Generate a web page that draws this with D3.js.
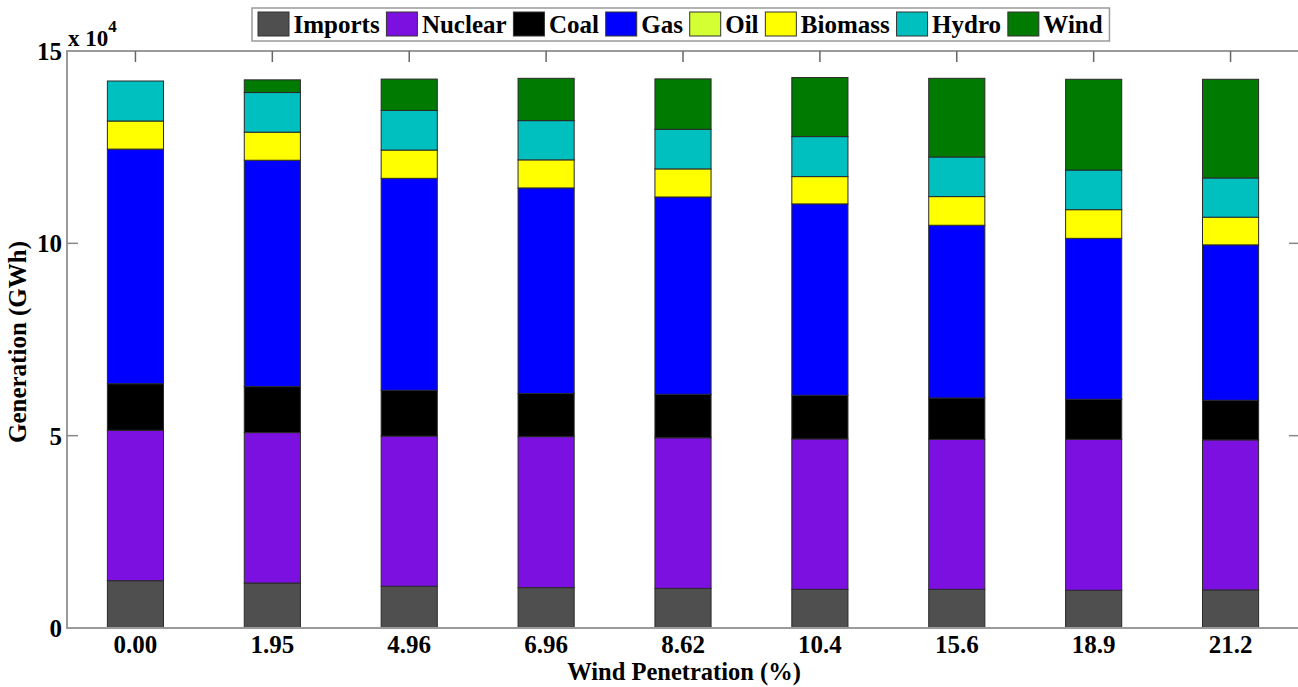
<!DOCTYPE html>
<html>
<head>
<meta charset="utf-8">
<script src="https://cdn.jsdelivr.net/npm/d3@7"></script>
<style>
  html, body { margin: 0; padding: 0; background: #fff; }
  svg { display: block; }
  text { font-family: "Liberation Serif", "Times New Roman", serif; font-weight: bold; fill: #000; }
</style>
</head>
<body>
<svg id="chart" width="1298" height="687"></svg>
<script>
// ---- data ----
const categories = ["0.00", "1.95", "4.96", "6.96", "8.62", "10.4", "15.6", "18.9", "21.2"];
const seriesNames = ["Imports", "Nuclear", "Coal", "Gas", "Oil", "Biomass", "Hydro", "Wind"];
const imports = [12300, 11700, 10850, 10500, 10300, 10050, 10050, 9800, 9900];
const nuclear = [39100, 39100, 39050, 39250, 39150, 39100, 39000, 39250, 39000];
const coal    = [12100, 11950, 11900, 11200, 11300, 11350, 10750, 10400, 10300];
const gas     = [61000, 58850, 55100, 53450, 51300, 49750, 44900, 41850, 40400];
const oil     = [0, 0, 0, 0, 0, 0, 0, 0, 0];
const biomass = [7300, 7300, 7350, 7300, 7300, 7100, 7450, 7450, 7200];
const hydro   = [10400, 10300, 10300, 10200, 10300, 10400, 10300, 10300, 10200];
const wind    = [0, 3300, 8150, 11000, 13100, 15350, 20450, 23600, 25650];
const yTicks = [0, 50000, 100000, 150000];
const colors = ["#4f4f4f", "#7c10e0", "#000000", "#0000ff", "#d4ff33", "#ffff00", "#00bfbf", "#007a00"];

const seriesValues = [imports, nuclear, coal, gas, oil, biomass, hydro, wind];
const table = categories.map((c, i) => {
  const row = { cat: c };
  seriesNames.forEach((s, k) => row[s] = seriesValues[k][i]);
  return row;
});

// ---- layout ----
const svg = d3.select("#chart");
const L = 67, R = 1299, T = 51, B = 628;

const x = d3.scaleBand().domain(categories).range([L, R]).paddingInner(0.59).paddingOuter(0.295);
const y = d3.scaleLinear().domain([0, 150000]).range([B, T]);

const stacked = d3.stack().keys(seriesNames)(table);

const axisColor = "#9a9a9a";

// bars
svg.append("g").selectAll("g.series").data(stacked).join("g")
  .attr("class", "series")
  .attr("fill", (d, i) => colors[i])
  .selectAll("rect").data(d => d).join("rect")
  .attr("x", d => x(d.data.cat))
  .attr("width", x.bandwidth())
  .attr("y", d => y(d[1]))
  .attr("height", d => y(d[0]) - y(d[1]))
  .attr("stroke", "#2a2a2a")
  .attr("stroke-width", 1);

// box
svg.append("rect").attr("x", L).attr("y", T).attr("width", R - L).attr("height", B - T)
  .attr("fill", "none").attr("stroke", axisColor).attr("stroke-width", 2);

// top x ticks
svg.append("g").selectAll("line").data(categories).join("line")
  .attr("x1", d => x(d) + x.bandwidth() / 2).attr("x2", d => x(d) + x.bandwidth() / 2)
  .attr("y1", T).attr("y2", T + 11)
  .attr("stroke", "#666").attr("stroke-width", 1.5);

// y ticks left and right
svg.append("g").selectAll("line").data(yTicks.slice(1, -1)).join("line")
  .attr("x1", L).attr("x2", L + 11).attr("y1", d => y(d)).attr("y2", d => y(d))
  .attr("stroke", "#888").attr("stroke-width", 1.5);
svg.append("g").selectAll("line").data(yTicks.slice(1, -1)).join("line")
  .attr("x1", R - 10).attr("x2", R).attr("y1", d => y(d)).attr("y2", d => y(d))
  .attr("stroke", "#888").attr("stroke-width", 1.5);

// x axis labels
const xg = svg.append("g").attr("transform", `translate(0,${B})`)
  .call(d3.axisBottom(x).tickSize(0).tickPadding(0));
xg.select(".domain").remove();
xg.selectAll("text").attr("y", 25).attr("dy", 0)
  .style("font-size", "25px").style("font-family", "Liberation Serif").style("font-weight", "bold").attr("fill", "#000");

// y axis labels
const yg = svg.append("g").attr("transform", `translate(${L - 5},0)`)
  .call(d3.axisLeft(y).tickValues(yTicks).tickSize(0).tickPadding(0).tickFormat(d => d / 10000));
yg.select(".domain").remove();
yg.selectAll("text").attr("x", 0).attr("dy", "0.34em")
  .style("font-size", "25px").style("font-family", "Liberation Serif").style("font-weight", "bold").attr("fill", "#000");

// exponent
const ex = svg.append("text").attr("x", 68).attr("y", 46).style("font-size", "23px");
ex.append("tspan").text("x 10");
ex.append("tspan").attr("dy", -14).style("font-size", "17px").text("4");

// axis titles
svg.append("text").attr("x", 684).attr("y", 680).attr("text-anchor", "middle")
  .style("font-size", "24.5px").text("Wind Penetration (%)");
svg.append("text").attr("transform", "translate(26,342) rotate(-90)").attr("text-anchor", "middle")
  .style("font-size", "25px").text("Generation (GWh)");

// legend
const leg = svg.append("g");
const legBox = leg.append("rect").attr("fill", "#fff").attr("stroke", "#9a9a9a").attr("stroke-width", 1.5);
let cx = 258;
seriesNames.forEach((s, i) => {
  leg.append("rect").attr("x", cx).attr("y", 12).attr("width", 31).attr("height", 24)
    .attr("fill", colors[i]).attr("stroke", "#333").attr("stroke-width", 1);
  const t = leg.append("text").attr("x", cx + 35.5).attr("y", 33).style("font-size", "25px").text(s);
  const w = t.node().getComputedTextLength();
  cx = cx + 35.5 + w + 6.8;
});
legBox.attr("x", 252).attr("y", 8).attr("width", cx - 252).attr("height", 33);
</script>
</body>
</html>
